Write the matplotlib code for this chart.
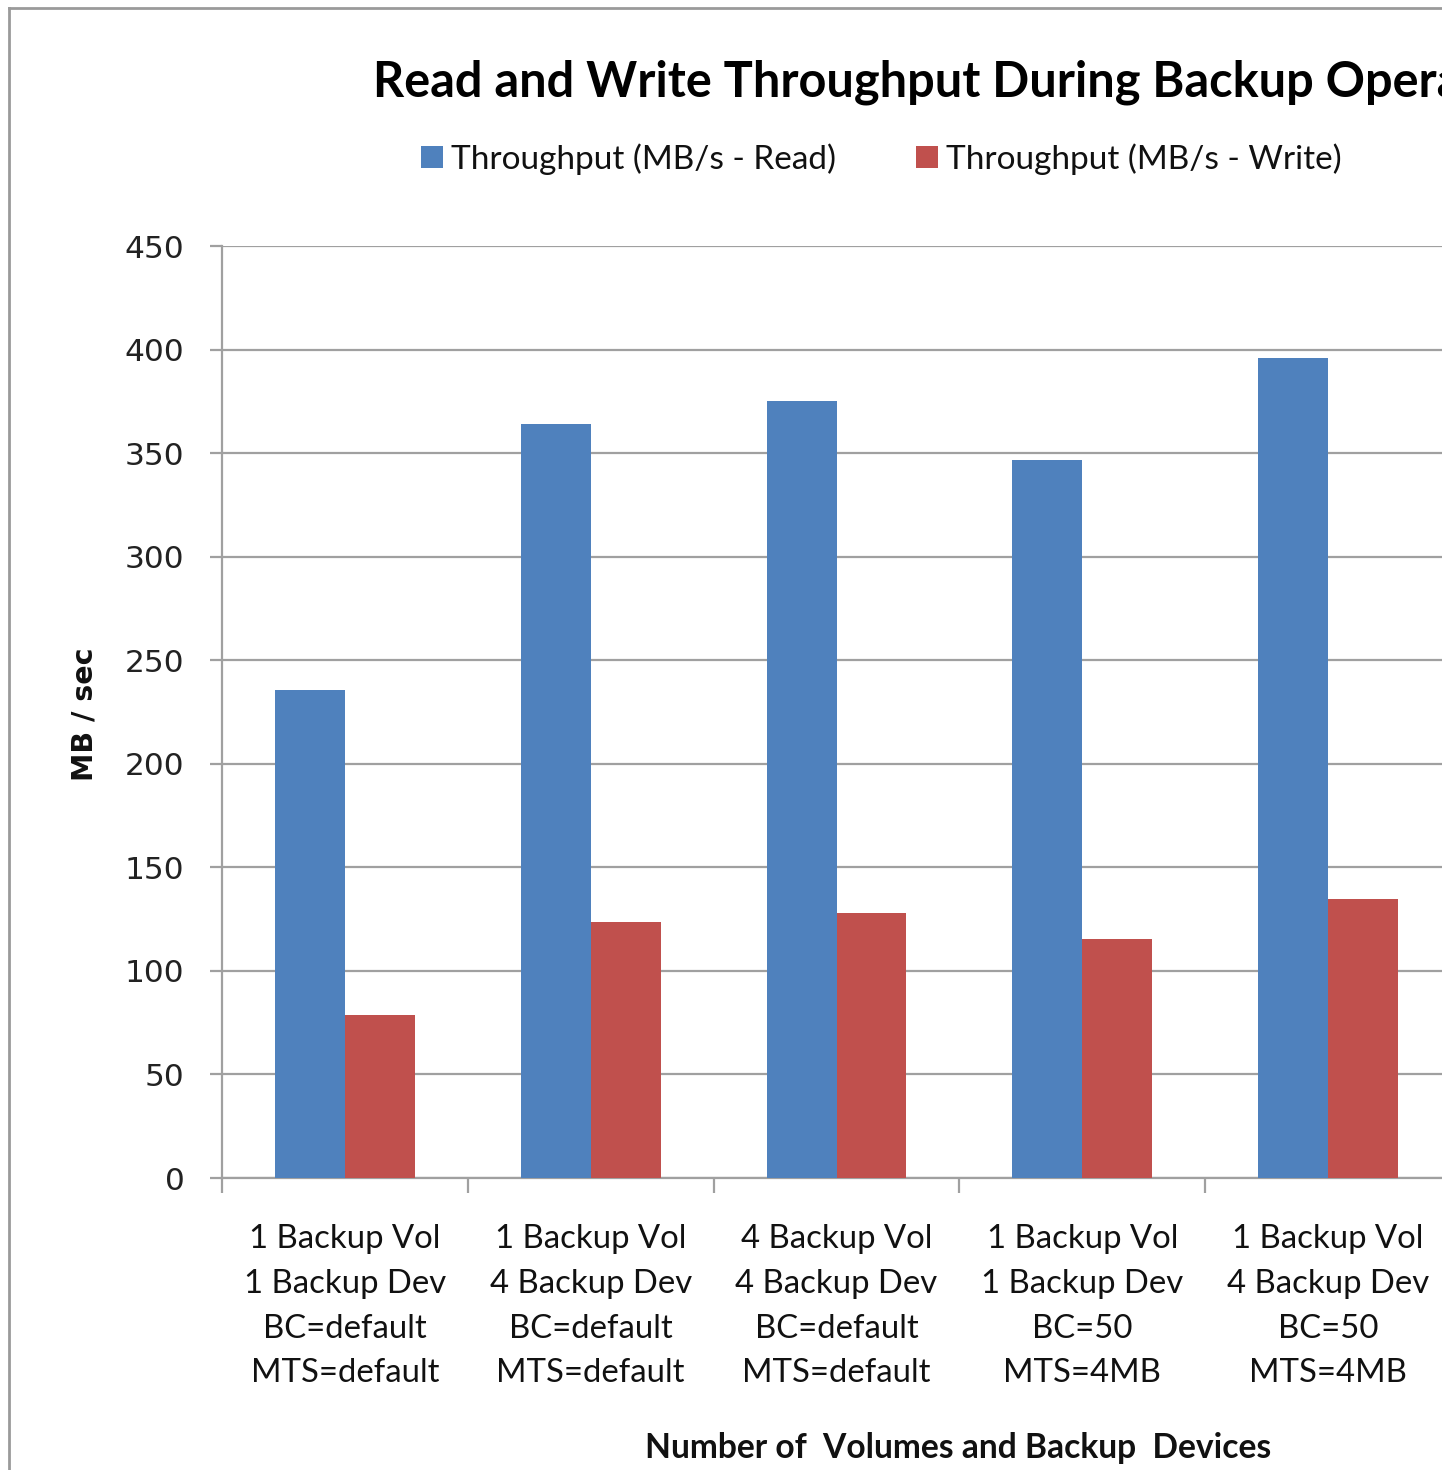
import matplotlib
matplotlib.use("Agg")
import matplotlib.pyplot as plt
from matplotlib.lines import Line2D
import numpy as np

categories = [
    "1 Backup Vol\n1 Backup Dev\nBC=default\nMTS=default",
    "1 Backup Vol\n4 Backup Dev\nBC=default\nMTS=default",
    "4 Backup Vol\n4 Backup Dev\nBC=default\nMTS=default",
    "1 Backup Vol\n1 Backup Dev\nBC=50\nMTS=4MB",
    "1 Backup Vol\n4 Backup Dev\nBC=50\nMTS=4MB",
]
read_values = [235.5, 364, 375, 346.5, 396]
write_values = [78.5, 123.5, 128, 115.5, 134.5]
series_names = ["Throughput (MB/s - Read)", "Throughput (MB/s - Write)"]
yticks = [0, 50, 100, 150, 200, 250, 300, 350, 400, 450]

W, H = 1442, 1470
fig = plt.figure(figsize=(W / 100, H / 100), dpi=100)
fig.patch.set_facecolor("white")

ax = fig.add_axes([222 / W, 1 - 1178 / H, 1229 / W, 932 / H])
x = np.arange(len(categories))
bw = 0.284
gray = "#a0a0a0"
b1 = ax.bar(x - bw / 2, read_values, bw, color="#4F81BD", label=series_names[0], zorder=3)
b2 = ax.bar(x + bw / 2, write_values, bw, color="#C0504D", label=series_names[1], zorder=3)

ax.set_xlim(-0.5, 4.5)
ax.set_ylim(0, 450)
ax.set_yticks(yticks)
ax.set_yticklabels([str(v) for v in yticks], fontsize=22.5, color="#222222", family="DejaVu Sans")
ax.yaxis.grid(True, color=gray, linewidth=1.6, zorder=0)
ax.set_axisbelow(True)
for s in ["top", "right"]:
    ax.spines[s].set_visible(False)
for s in ["left", "bottom"]:
    ax.spines[s].set_color(gray)
    ax.spines[s].set_linewidth(1.6)
ax.tick_params(axis="y", length=9, width=1.6, color=gray, pad=18)

ax.set_xticks(x)
ax.set_xticklabels(categories, fontsize=23.7, family="Lato", color="#111111", linespacing=1.62)
ax.tick_params(axis="x", which="major", length=0, pad=33)
ax.set_xticks(np.arange(-0.5, 5.0, 1.0), minor=True)
ax.tick_params(axis="x", which="minor", length=11, width=1.6, color=gray)

ax.set_ylabel("MB / sec", fontsize=20.5, fontweight="bold", family="DejaVu Sans", color="#111111")
ax.yaxis.label.set_va("center")
ax.yaxis.set_label_coords((85 - 222) / 1229, 0.5 + (1178 - 714 - 466) / 932)
ax.set_xlabel("Number of  Volumes and Backup  Devices", fontsize=24.2, fontweight="bold",
              family="Lato", color="#111111")
ax.xaxis.set_label_coords((958 - 222) / 1229, -(1448 - 1178) / 932)
ax.xaxis.label.set_va("center")

fig.text(373 / W, 1 - 82 / H, "Read and Write Throughput During Backup Operations",
         fontsize=35, fontweight="bold", family="Lato", ha="left", va="center", color="#000000")

leg = fig.legend(handles=[b1, b2], labels=series_names, loc="center left",
                 bbox_to_anchor=(421 / W, 1 - 159 / H), ncol=2, frameon=False,
                 prop={"family": "Lato", "size": 24}, handlelength=0.65, handleheight=0.65,
                 handletextpad=0.25, columnspacing=2.4, borderaxespad=0, borderpad=0)
for t in leg.get_texts():
    t.set_color("#111111")

# outer chart border (partially visible)
fig.add_artist(Line2D([9 / W, 9 / W], [0, 1 - 8 / H], transform=fig.transFigure, color="#9a9a9a", linewidth=2))
fig.add_artist(Line2D([9 / W, 1], [1 - 8 / H, 1 - 8 / H], transform=fig.transFigure, color="#9a9a9a", linewidth=2))

fig.savefig("out.png", dpi=100)
